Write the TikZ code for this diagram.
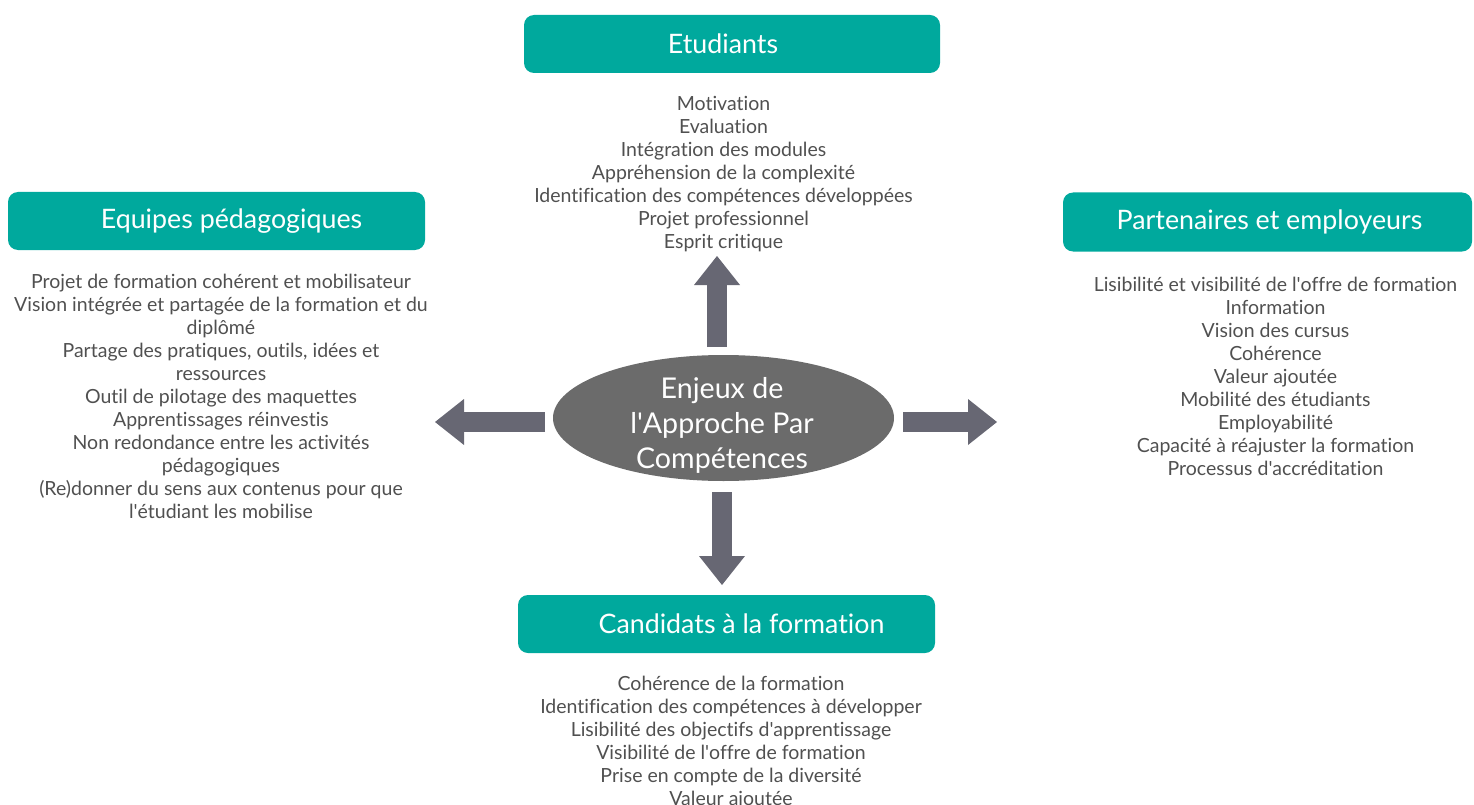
\documentclass[tikz,border=0pt]{standalone}
\usepackage{fontspec}
\setmainfont{Lato}[Ligatures=NoCommon]
\usetikzlibrary{arrows.meta,shapes.geometric}
\definecolor{headteal}{HTML}{00A99D}
\definecolor{ellgray}{HTML}{6B6B6B}
\definecolor{arrgray}{HTML}{676773}
\definecolor{listgray}{HTML}{505050}
\newcommand{\sq}{\textquotesingle}
\begin{document}
\begin{tikzpicture}[x=1pt,y=-1pt,
  headbox/.style={fill=headteal, rounded corners=10pt, text=white, inner sep=0pt,
    minimum height=58pt, font=\fontsize{26.8}{30}\selectfont},
  listtext/.style={anchor=north, inner sep=0pt, align=center, text=listgray,
    font=\fontsize{19.5}{23}\selectfont},
  blockarrow/.style={draw=arrgray, line width=20pt,
    -{Triangle[width=46pt,length=29pt,line width=0pt]}}
]
\useasboundingbox (0,0) rectangle (1474,805);
\clip (0,0) rectangle (1474,805);

% headers
\node[headbox, minimum width=416pt] (etu) at (732,44) {Etudiants\hspace*{18pt}};
\node[headbox, minimum width=417pt] (equ) at (216.5,221) {\hspace*{30pt}Equipes pédagogiques};
\node[headbox, minimum width=409pt, minimum height=59pt] (par) at (1267.5,222) {\hspace*{4pt}Partenaires et employeurs};
\node[headbox, minimum width=417pt] (can) at (726.5,624) {\hspace*{30pt}Candidats à la formation};

% lists
\node[listtext] (etuL) at (723.5,94) {\strut Motivation\\Evaluation\\Intégration des modules\\Appréhension de la complexité\\Identification des compétences développées\\Projet professionnel\\Esprit critique};
\node[listtext] (equL) at (221,272) {\strut Projet de formation cohérent et mobilisateur\\Vision intégrée et partagée de la formation et du\\diplômé\\Partage des pratiques, outils, idées et\\ressources\\Outil de pilotage des maquettes\\Apprentissages réinvestis\\Non redondance entre les activités\\pédagogiques\\(Re)donner du sens aux contenus pour que\\l\sq étudiant les mobilise};
\node[listtext] (parL) at (1275.5,275) {\strut Lisibilité et visibilité de l\sq offre de formation\\Information\\Vision des cursus\\Cohérence\\Valeur ajoutée\\Mobilité des étudiants\\Employabilité\\Capacité à réajuster la formation\\Processus d\sq accréditation};
\node[listtext] (canL) at (731,674) {\strut Cohérence de la formation\\Identification des compétences à développer\\Lisibilité des objectifs d\sq apprentissage\\Visibilité de l\sq offre de formation\\Prise en compte de la diversité\\Valeur ajoutée};

% centre
\node[ellipse, fill=ellgray, minimum width=341pt, minimum height=126pt, inner sep=0pt] (ell) at (723.5,418) {};
\node[align=center, text=white, inner sep=0pt, font=\fontsize{28.6}{35}\selectfont] (ellT) at (722,425) {Enjeux de\\l\sq Approche Par\\Compétences};

% arrows
\coordinate (upS) at (717,347);   \coordinate (upE) at (717,256);
\coordinate (dnS) at (722,492);   \coordinate (dnE) at (722,585);
\coordinate (lfS) at (545,422);   \coordinate (lfE) at (435,422);
\coordinate (rtS) at (903,422);   \coordinate (rtE) at (997,422);
\draw[blockarrow] (upS) -- (upE);
\draw[blockarrow] (dnS) -- (dnE);
\draw[blockarrow] (lfS) -- (lfE);
\draw[blockarrow] (rtS) -- (rtE);
\end{tikzpicture}
\end{document}
